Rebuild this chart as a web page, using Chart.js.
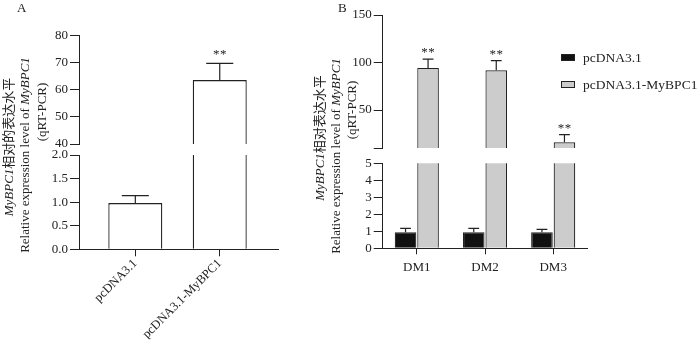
<!DOCTYPE html>
<html>
<head>
<meta charset="utf-8">
<script src="https://cdn.jsdelivr.net/npm/chart.js@4.4.0/dist/chart.umd.min.js"></script>
<style>
    body { margin: 0; background: #fff; }
    #wrap {
        position: relative; width: 700px; height: 347px; overflow: hidden;
        font-family: "Liberation Serif", "Noto Sans CJK SC", serif; font-size: 13px; color: #222;
    }
    #wrap canvas { position: absolute; left: 0; top: 0; }
    .ytitle { position: absolute; white-space: nowrap; line-height: 1; transform: translate(-50%, -50%) rotate(-90deg); }
    .panel { position: absolute; line-height: 1; }
    .legend { position: absolute; line-height: 1; white-space: nowrap; font-size: 13.5px; }
    .swatch { position: absolute; width: 12px; height: 5px; border: 1px solid #222; }
</style>
</head>
<body>
<div id="wrap">
    <canvas id="aTop" width="700" height="347"></canvas>
    <canvas id="aBottom" width="700" height="347"></canvas>
    <canvas id="bTop" width="700" height="347"></canvas>
    <canvas id="bBottom" width="700" height="347"></canvas>

    <div class="panel" style="left:17px; top:1px;">A</div>
    <div class="panel" style="left:338px; top:1px;">B</div>

    <div class="ytitle" style="left:8px; top:147px;"><i>MyBPC1</i>相对的表达水平</div>
    <div class="ytitle" style="left:24px; top:155px;">Relative expression level of <i>MyBPC1</i></div>
    <div class="ytitle" style="left:41px; top:112px;">(qRT-PCR)</div>

    <div class="ytitle" style="left:319px; top:138px;"><i>MyBPC1</i>相对表达水平</div>
    <div class="ytitle" style="left:335px; top:156px;">Relative expression level of <i>MyBPC1</i></div>
    <div class="ytitle" style="left:351px; top:110px;">(qRT-PCR)</div>

    <div class="swatch" style="left:561px; top:54px; background:#111;"></div>
    <div class="legend" style="left:583px; top:51px;" id="leg0"></div>
    <div class="swatch" style="left:561px; top:81px; background:#cccccc;"></div>
    <div class="legend" style="left:583px; top:78px;" id="leg1"></div>
</div>
<script>
// Panel A
const categoriesA = ['pcDNA3.1', 'pcDNA3.1-MyBPC1'];
const meansA = [0.98, 63.6];
const sdA = [0.16, 6.2];
const starsA = ['', '**'];
const yTicksATop = [40, 50, 60, 70, 80];
const yTicksABottom = [0, 0.5, 1.0, 1.5, 2.0];

// Panel B
const categoriesB = ['DM1', 'DM2', 'DM3'];
const seriesNames = ['pcDNA3.1', 'pcDNA3.1-MyBPC1'];
const controlB = [0.95, 0.95, 0.95];
const controlSdB = [0.22, 0.22, 0.16];
const mybpcB = [94.3, 91.9, 16];
const mybpcSdB = [9.2, 10, 8];
const starsB = ['**', '**', '**'];
const yTicksBTop = [10, 50, 100, 150];
const yLabelsBTop = ['', '50', '100', '150'];
const yTicksBBottom = [0, 1, 2, 3, 4, 5];

document.getElementById('leg0').textContent = seriesNames[0];
document.getElementById('leg1').textContent = seriesNames[1];

Chart.defaults.font.family = "'Liberation Serif', serif";
Chart.defaults.font.size = 13;
Chart.defaults.color = '#222';

const W = 700, H = 347;
const Y_W = 40;

// error bars + significance stars, clipped to each half of the broken axis
const errorBarPlugin = {
    id: 'errorBars',
    afterDatasetsDraw(chart, args, opts) {
        const { ctx, chartArea: a } = chart;
        const y = chart.scales.y;
        ctx.save();
        ctx.beginPath();
        ctx.rect(a.left, a.top - 1, a.right - a.left, a.bottom - a.top + 2);
        ctx.clip();
        ctx.strokeStyle = '#222';
        ctx.lineWidth = 1.2;
        ctx.fillStyle = '#222';
        ctx.font = "13px 'Liberation Serif'";
        ctx.textAlign = 'center';
        ctx.textBaseline = 'middle';
        chart.data.datasets.forEach((ds, di) => {
            const meta = chart.getDatasetMeta(di);
            meta.data.forEach((bar, i) => {
                const v = meta.controller.getParsed(i).y;
                const yv = y.getPixelForValue(v);
                const yt = y.getPixelForValue(v + ds.sd[i]);
                const half = bar.width * 0.25;
                ctx.beginPath();
                ctx.moveTo(bar.x, yv);
                ctx.lineTo(bar.x, yt);
                ctx.moveTo(bar.x - half, yt);
                ctx.lineTo(bar.x + half, yt);
                ctx.stroke();
                if (ds.stars && ds.stars[i]) {
                    const sy = yt - opts.starGap;
                    ctx.fillText('*', bar.x - 3.5, sy);
                    ctx.fillText('*', bar.x + 3.5, sy);
                }
            });
        });
        ctx.restore();
    }
};

function yAxis(min, max, ticks, label) {
    return {
        min: min, max: max, beginAtZero: false,
        afterFit: s => { s.width = Y_W; },
        afterBuildTicks: s => { s.ticks = ticks.map(v => ({ value: v })); },
        ticks: { autoSkip: false, padding: 2, callback: label },
        grid: { drawOnChartArea: false, drawTicks: true, tickLength: 9, color: '#222' },
        border: { color: '#222', width: 1 }
    };
}

function makeChart(id, area, xScale, yScale, datasets, xHeight, starGap) {
    return new Chart(document.getElementById(id), {
        type: 'bar',
        data: { labels: xScale.type === 'category' ? categoriesB : undefined, datasets: datasets },
        options: {
            responsive: false,
            animation: false,
            devicePixelRatio: 1,
            layout: {
                padding: {
                    left: area.left - Y_W,
                    top: area.top,
                    right: W - area.right,
                    bottom: H - area.bottom - xHeight
                }
            },
            plugins: { legend: { display: false }, tooltip: { enabled: false }, errorBars: { starGap: starGap } },
            scales: { x: xScale, y: yScale }
        },
        plugins: [errorBarPlugin]
    });
}

// ---- Panel A ----
const areaX_A = { left: 79, right: 278 };
function xAxisA(show) {
    return {
        type: 'linear', display: show, offset: false,
        min: -0.667, max: 1.69,
        afterFit: s => { if (show) s.height = 90; },
        afterBuildTicks: s => { s.ticks = categoriesA.map((c, i) => ({ value: i })); },
        ticks: { autoSkip: false, minRotation: 45, maxRotation: 45, padding: 0, font: { size: 12.5 }, callback: v => categoriesA[v] },
        grid: { offset: false, drawOnChartArea: false, drawTicks: true, tickLength: 7, color: '#222' },
        border: { color: '#222', width: 1 }
    };
}
function datasetsA() {
    return [{
        data: meansA.map((v, i) => ({ x: i, y: v })),
        sd: sdA, stars: starsA,
        backgroundColor: '#ffffff', borderColor: '#222', borderWidth: 1.3,
        categoryPercentage: 0.64, barPercentage: 1, clip: 0
    }];
}
makeChart('aTop', { left: areaX_A.left, right: areaX_A.right, top: 35.7, bottom: 144 },
    xAxisA(false), yAxis(40, 80, yTicksATop, v => v), datasetsA(), 0, 9);
makeChart('aBottom', { left: areaX_A.left, right: areaX_A.right, top: 155, bottom: 249.3 },
    xAxisA(true), yAxis(0, 2, yTicksABottom, v => v.toFixed(1)), datasetsA(), 90, 9);

// ---- Panel B ----
const areaX_B = { left: 382.7, right: 587.3 };
function xAxisB(show) {
    return {
        type: 'category', display: show, offset: true,
        afterFit: s => { if (show) s.height = 30; },
        ticks: { autoSkip: false, maxRotation: 0, padding: 5 },
        grid: { offset: false, drawOnChartArea: false, drawTicks: true, tickLength: 6, color: '#222' },
        border: { color: '#222', width: 1 }
    };
}
function datasetsB() {
    const common = { borderColor: '#222', borderWidth: 1.2, categoryPercentage: 0.66, barPercentage: 0.96, clip: 0 };
    return [
        Object.assign({ label: seriesNames[0], data: controlB, sd: controlSdB, backgroundColor: '#111111' }, common),
        Object.assign({ label: seriesNames[1], data: mybpcB, sd: mybpcSdB, stars: starsB, backgroundColor: '#cccccc' }, common)
    ];
}
makeChart('bTop', { left: areaX_B.left, right: areaX_B.right, top: 15, bottom: 148 },
    xAxisB(false), yAxis(10, 150, yTicksBTop, (v, i) => yLabelsBTop[i]), datasetsB(), 0, 6.5);
makeChart('bBottom', { left: areaX_B.left, right: areaX_B.right, top: 163.3, bottom: 248.3 },
    xAxisB(true), yAxis(0, 5, yTicksBBottom, v => v), datasetsB(), 30, 6.5);
</script>
</body>
</html>
